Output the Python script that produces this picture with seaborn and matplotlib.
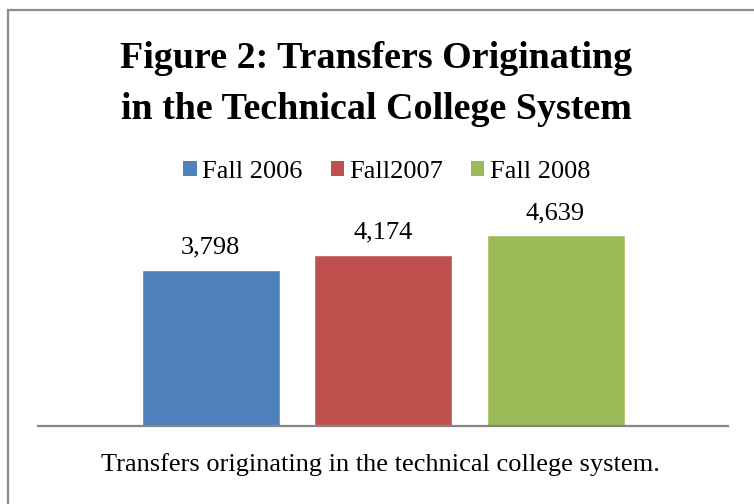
import pandas as pd
import matplotlib
matplotlib.use("Agg")
import matplotlib.pyplot as plt
import seaborn as sns
from matplotlib.patches import Patch, Rectangle

# Data
terms = ["Fall 2006", "Fall2007", "Fall 2008"]
transfers = [3798, 4174, 4639]
colors = ["#4F81BD", "#C0504D", "#9BBB59"]

df = pd.DataFrame({"term": terms, "transfers": transfers})

sns.set_theme(style="white")
plt.rcParams["font.family"] = ["Liberation Serif", "DejaVu Serif"]
plt.rcParams["text.color"] = "black"

W, H = 754, 504
fig = plt.figure(figsize=(W / 100, H / 100), dpi=100)

# plot area: baseline from x=38 to x=728, at y=426 px
ax = fig.add_axes([38 / W, (H - 426) / H, 690 / W, 0.4563])
sns.barplot(data=df, x="term", y="transfers", hue="term", palette=colors,
            width=0.8, saturation=1, legend=False, ax=ax)
ax.set_xlim(-1, 3)
ax.set_ylim(0, 5600)

for cont in ax.containers:
    ax.bar_label(cont, labels=[f"{v:,.0f}" for v in cont.datavalues],
                 padding=8, fontsize=19, color="black")

for side in ["left", "right", "top"]:
    ax.spines[side].set_visible(False)
ax.spines["bottom"].set_color("#868686")
ax.spines["bottom"].set_linewidth(1.6)
ax.set_xticks([])
ax.set_yticks([])
ax.set_xlabel("")
ax.set_ylabel("")
ax.patch.set_alpha(0)

# title (two lines)
fig.text(376 / W, (H - 68) / H, "Figure 2: Transfers Originating",
         ha="center", va="baseline", fontsize=27.4, fontweight="bold", color="black")
fig.text(376 / W, (H - 119) / H, "in the Technical College System",
         ha="center", va="baseline", fontsize=27.4, fontweight="bold", color="black")

# legend
handles = [Patch(facecolor=c, edgecolor="none", label=t) for t, c in zip(terms, colors)]
leg = fig.legend(handles=handles, loc="center", bbox_to_anchor=(387 / W, (H - 172) / H),
                 ncol=3, frameon=False, fontsize=19, handlelength=0.5, handleheight=0.5,
                 handletextpad=0.22, columnspacing=1.05, borderpad=0)
for t in leg.get_texts():
    t.set_color("black")

# caption
fig.text(380 / W, (H - 471) / H, "Transfers originating in the technical college system.",
         ha="center", va="baseline", fontsize=19, color="black")

# chart border (right/bottom edges fall outside the crop)
fig.patches.append(Rectangle((8 / W, -0.1), 1.2, (H - 10) / H + 0.1,
                             transform=fig.transFigure, fill=False,
                             edgecolor="#8C8C8C", linewidth=1.6))

fig.savefig("out.png", dpi=100)
